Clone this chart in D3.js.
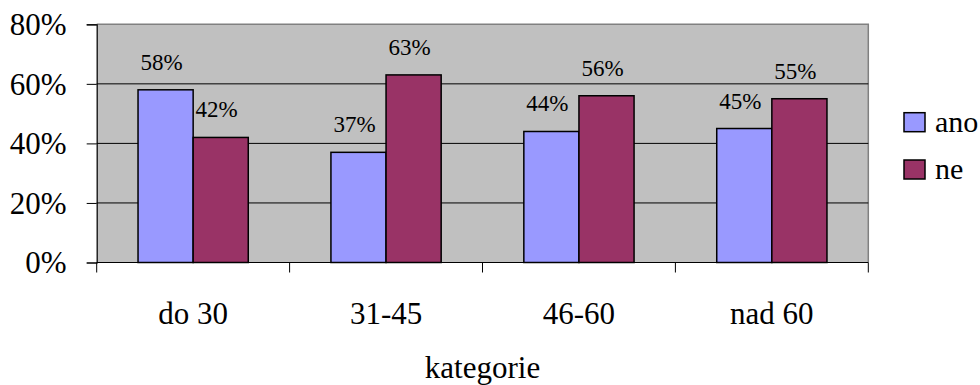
<!DOCTYPE html>
<html>
<head>
<meta charset="utf-8">
<script src="https://cdn.jsdelivr.net/npm/d3@7"></script>
<style>
  html, body { margin: 0; padding: 0; background: #fff; }
</style>
</head>
<body>
<svg id="chart" width="980" height="385" font-family="Liberation Serif"></svg>
<script>
// Age categories and the share of answers per category
const categories = ["do 30", "31-45", "46-60", "nad 60"];
const seriesNames = ["ano", "ne"];
const anoValues = [0.58, 0.37, 0.44, 0.45];
const neValues = [0.42, 0.63, 0.56, 0.55];
const yTicks = [0, 0.2, 0.4, 0.6, 0.8];
const axisTitle = "kategorie";

const colors = { ano: "#9999FF", ne: "#993366" };
const FONT = "Liberation Serif";

// every text element gets the serif face both as attribute and inline style
function serif(sel, size) {
  return sel.attr("font-family", FONT).attr("font-size", size)
    .style("font-family", `"${FONT}"`).style("font-size", size + "px");
}

const svg = d3.select("#chart");
const plot = { left: 96.7, right: 868.3, top: 24.3, bottom: 262.5 };

const x = d3.scaleBand().domain(categories).range([plot.left, plot.right]).padding(0);
// Excel-style gap width of 150%: two bars plus 1.5 bar widths of gap per category
const barW = x.bandwidth() / 3.5;
const x1 = d3.scaleBand().domain(seriesNames).range([0.75 * barW, 2.75 * barW]).padding(0);
const y = d3.scaleLinear().domain([0, 0.8]).range([plot.bottom, plot.top]);

// plot background
svg.append("rect")
  .attr("x", plot.left).attr("y", plot.top)
  .attr("width", plot.right - plot.left).attr("height", plot.bottom - plot.top)
  .attr("fill", "#C0C0C0");

// outer border (top and right sides are grey)
svg.append("path")
  .attr("d", `M${plot.left},${plot.top}H${plot.right}V${plot.bottom}`)
  .attr("fill", "none").attr("stroke", "#808080").attr("stroke-width", 1.5);

// horizontal gridlines
svg.append("g").selectAll("line")
  .data(yTicks.filter(t => t > 0 && t < 0.8))
  .join("line")
  .attr("x1", plot.left).attr("x2", plot.right)
  .attr("y1", d => y(d)).attr("y2", d => y(d))
  .attr("stroke", "#000").attr("stroke-width", 1);

// bars
const rows = categories.map((c, i) => ({ cat: c, vals: [
  { key: "ano", v: anoValues[i] },
  { key: "ne", v: neValues[i] }
]}));

const groups = svg.append("g").selectAll("g")
  .data(rows).join("g")
  .attr("transform", d => `translate(${x(d.cat)},0)`);

groups.selectAll("rect")
  .data(d => d.vals).join("rect")
  .attr("x", d => x1(d.key))
  .attr("y", d => y(d.v))
  .attr("width", x1.bandwidth())
  .attr("height", d => y(0) - y(d.v))
  .attr("fill", d => colors[d.key])
  .attr("stroke", "#000").attr("stroke-width", 1.5);

// value labels above the bars
const valueLabels = svg.append("g").selectAll("text")
  .data(rows.flatMap(r => r.vals.map(v => ({ cat: r.cat, key: v.key, v: v.v }))))
  .join("text")
  .attr("x", d => x(d.cat) + x1(d.key) + x1.bandwidth() / 2 - 4)
  .attr("y", d => y(d.v) - 20)
  .attr("text-anchor", "middle")
  .attr("fill", "#000")
  .text(d => d3.format(".0%")(d.v));
serif(valueLabels, 23);

// y axis
const yAxis = d3.axisLeft(y).tickValues(yTicks).tickFormat(d3.format(".0%"))
  .tickSize(10).tickPadding(20);
const gy = svg.append("g").attr("transform", `translate(${plot.left},0)`).call(yAxis);
gy.attr("font-family", FONT);
gy.select(".domain").attr("stroke", "#000").attr("stroke-width", 1.2);
gy.selectAll(".tick line").attr("stroke", "#000");
serif(gy.selectAll(".tick text"), 31).attr("fill", "#000").attr("dy", "0.33em");

// x axis with tick marks at category boundaries
const gx = svg.append("g").attr("transform", `translate(0,${plot.bottom})`);
gx.append("line").attr("x1", plot.left).attr("x2", plot.right)
  .attr("stroke", "#000").attr("stroke-width", 1.2);
const bounds = categories.map(c => x(c)).concat([plot.right]);
gx.selectAll("line.tick").data(bounds).join("line")
  .attr("class", "tick")
  .attr("x1", d => d).attr("x2", d => d).attr("y1", 0).attr("y2", 10)
  .attr("stroke", "#000").attr("stroke-width", 1);
serif(gx.selectAll("text").data(categories).join("text")
  .attr("x", d => x(d) + x.bandwidth() / 2)
  .attr("y", 61)
  .attr("text-anchor", "middle")
  .attr("fill", "#000")
  .text(d => d), 31);

// axis title
serif(svg.append("text")
  .attr("x", (plot.left + plot.right) / 2).attr("y", 378)
  .attr("text-anchor", "middle")
  .attr("fill", "#000")
  .text(axisTitle), 31);

// legend
const legend = svg.append("g").selectAll("g")
  .data(seriesNames).join("g")
  .attr("transform", (d, i) => `translate(904,${112.7 + i * 47.3})`);
legend.append("rect")
  .attr("width", 21).attr("height", 19)
  .attr("fill", d => colors[d]).attr("stroke", "#000").attr("stroke-width", 1.5);
serif(legend.append("text")
  .attr("x", 31).attr("y", 19)
  .attr("fill", "#000")
  .text(d => d), 30);
</script>
</body>
</html>
